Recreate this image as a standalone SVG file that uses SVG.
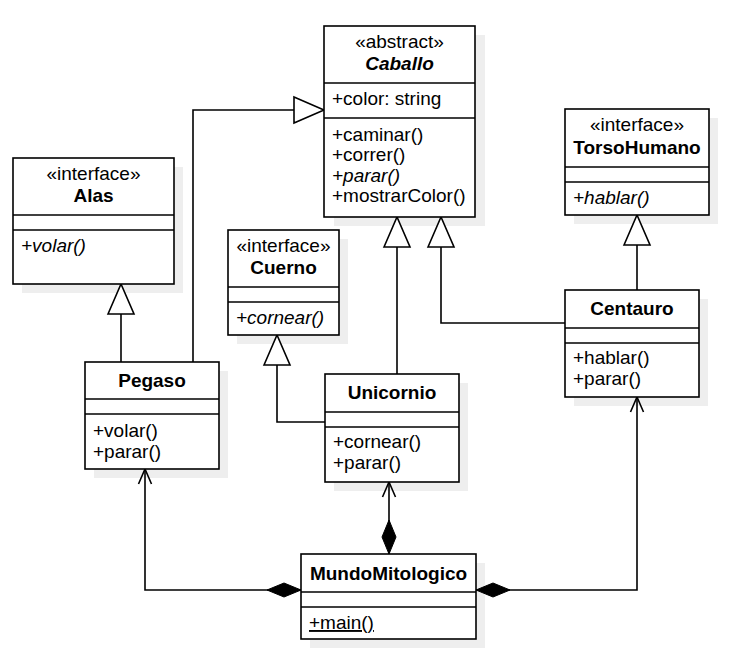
<svg xmlns="http://www.w3.org/2000/svg" width="738" height="668" viewBox="0 0 738 668">
<defs>
<style>
.box{fill:#ffffff;stroke:#000000;stroke-width:1.6}
.sh{fill:#eeeeee;stroke:none}
.div{stroke:#000000;stroke-width:1.6}
text{font-family:"Liberation Sans",Arial,sans-serif;font-size:19px;fill:#000000}
.c{text-anchor:middle}
.b{font-weight:bold}
.i{font-style:italic}
.u{text-decoration:underline}
.ln{fill:none;stroke:#000000;stroke-width:1.6}
</style>
<marker id="inh" markerUnits="userSpaceOnUse" markerWidth="32" markerHeight="28" refX="30" refY="13" orient="auto" overflow="visible">
<path d="M0,0 L30,13 L0,26 Z" fill="#ffffff" stroke="#000000" stroke-width="1.6"/>
</marker>
<marker id="open" markerUnits="userSpaceOnUse" markerWidth="16" markerHeight="14" refX="15" refY="6.5" orient="auto" overflow="visible">
<path d="M0,0 L15,6.5 L0,13" fill="none" stroke="#000000" stroke-width="1.6"/>
</marker>
<marker id="dia" markerUnits="userSpaceOnUse" markerWidth="34" markerHeight="14" refX="0" refY="7" orient="auto" overflow="visible">
<path d="M0,7 L17,0 L34,7 L17,14 Z" fill="#000000" stroke="#000000" stroke-width="1"/>
</marker>
</defs>
<rect width="738" height="668" fill="#ffffff"/>

<g id="shadows">
<rect class="sh" x="334" y="35" width="151" height="191"/>
<rect class="sh" x="22" y="167" width="161" height="126"/>
<rect class="sh" x="237" y="239" width="111" height="105"/>
<rect class="sh" x="574" y="118" width="144" height="106"/>
<rect class="sh" x="94" y="371" width="134" height="107"/>
<rect class="sh" x="334" y="383" width="134" height="108"/>
<rect class="sh" x="574" y="299" width="134" height="107"/>
<rect class="sh" x="310" y="563" width="175" height="85"/>
</g>

<g id="connectors">
<path class="ln" d="M121,362 L121,284" marker-end="url(#inh)"/>
<path class="ln" d="M193,362 L193,110 L324,110" marker-end="url(#inh)"/>
<path class="ln" d="M325,422 L277,422 L277,335" marker-end="url(#inh)"/>
<path class="ln" d="M397,374 L397,217" marker-end="url(#inh)"/>
<path class="ln" d="M565,323 L441,323 L441,217" marker-end="url(#inh)"/>
<path class="ln" d="M637,290 L637,215" marker-end="url(#inh)"/>
<path class="ln" d="M301,590 L145,590 L145,469" marker-start="url(#dia)" marker-end="url(#open)"/>
<path class="ln" d="M389,554 L389,482" marker-start="url(#dia)" marker-end="url(#open)"/>
<path class="ln" d="M476,590 L637,590 L637,397" marker-start="url(#dia)" marker-end="url(#open)"/>
</g>

<g id="Caballo">
<rect class="box" x="324" y="26" width="151" height="191"/>
<line class="div" x1="324" y1="83" x2="475" y2="83"/>
<line class="div" x1="324" y1="118" x2="475" y2="118"/>
<text class="c" x="399.5" y="47.5">«abstract»</text>
<text class="c b i" x="399.5" y="69.5">Caballo</text>
<text x="332" y="105">+color: string</text>
<text x="332" y="140.5">+caminar()</text>
<text x="332" y="161">+correr()</text>
<text class="i" x="332" y="181.5">+parar()</text>
<text x="332" y="202">+mostrarColor()</text>
</g>

<g id="Alas">
<rect class="box" x="13" y="158" width="161" height="126"/>
<line class="div" x1="13" y1="215" x2="174" y2="215"/>
<line class="div" x1="13" y1="230" x2="174" y2="230"/>
<text class="c" x="93.5" y="179.5">«interface»</text>
<text class="c b" x="93.5" y="201.5">Alas</text>
<text class="i" x="21" y="252">+volar()</text>
</g>

<g id="Cuerno">
<rect class="box" x="228" y="230" width="111" height="105"/>
<line class="div" x1="228" y1="287" x2="339" y2="287"/>
<line class="div" x1="228" y1="302" x2="339" y2="302"/>
<text class="c" x="283.5" y="251.5">«interface»</text>
<text class="c b" x="283.5" y="273.5">Cuerno</text>
<text class="i" x="236" y="324">+cornear()</text>
</g>

<g id="TorsoHumano">
<rect class="box" x="565" y="109" width="144" height="106"/>
<line class="div" x1="565" y1="167" x2="709" y2="167"/>
<line class="div" x1="565" y1="182" x2="709" y2="182"/>
<text class="c" x="637" y="131">«interface»</text>
<text class="c b" x="637" y="153.5">TorsoHumano</text>
<text class="i" x="573" y="203.5">+hablar()</text>
</g>

<g id="Pegaso">
<rect class="box" x="85" y="362" width="134" height="107"/>
<line class="div" x1="85" y1="399" x2="219" y2="399"/>
<line class="div" x1="85" y1="414" x2="219" y2="414"/>
<text class="c b" x="152" y="387">Pegaso</text>
<text x="93" y="437">+volar()</text>
<text x="93" y="458">+parar()</text>
</g>

<g id="Unicornio">
<rect class="box" x="325" y="374" width="134" height="108"/>
<line class="div" x1="325" y1="412" x2="459" y2="412"/>
<line class="div" x1="325" y1="427" x2="459" y2="427"/>
<text class="c b" x="392" y="399">Unicornio</text>
<text x="333" y="448">+cornear()</text>
<text x="333" y="469">+parar()</text>
</g>

<g id="Centauro">
<rect class="box" x="565" y="290" width="134" height="107"/>
<line class="div" x1="565" y1="328" x2="699" y2="328"/>
<line class="div" x1="565" y1="343" x2="699" y2="343"/>
<text class="c b" x="632" y="314.5">Centauro</text>
<text x="573" y="364">+hablar()</text>
<text x="573" y="385">+parar()</text>
</g>

<g id="MundoMitologico">
<rect class="box" x="301" y="554" width="175" height="85"/>
<line class="div" x1="301" y1="592" x2="476" y2="592"/>
<line class="div" x1="301" y1="607" x2="476" y2="607"/>
<text class="c b" x="388.5" y="579.5">MundoMitologico</text>
<text class="u" x="309" y="629">+main()</text>
</g>
</svg>
